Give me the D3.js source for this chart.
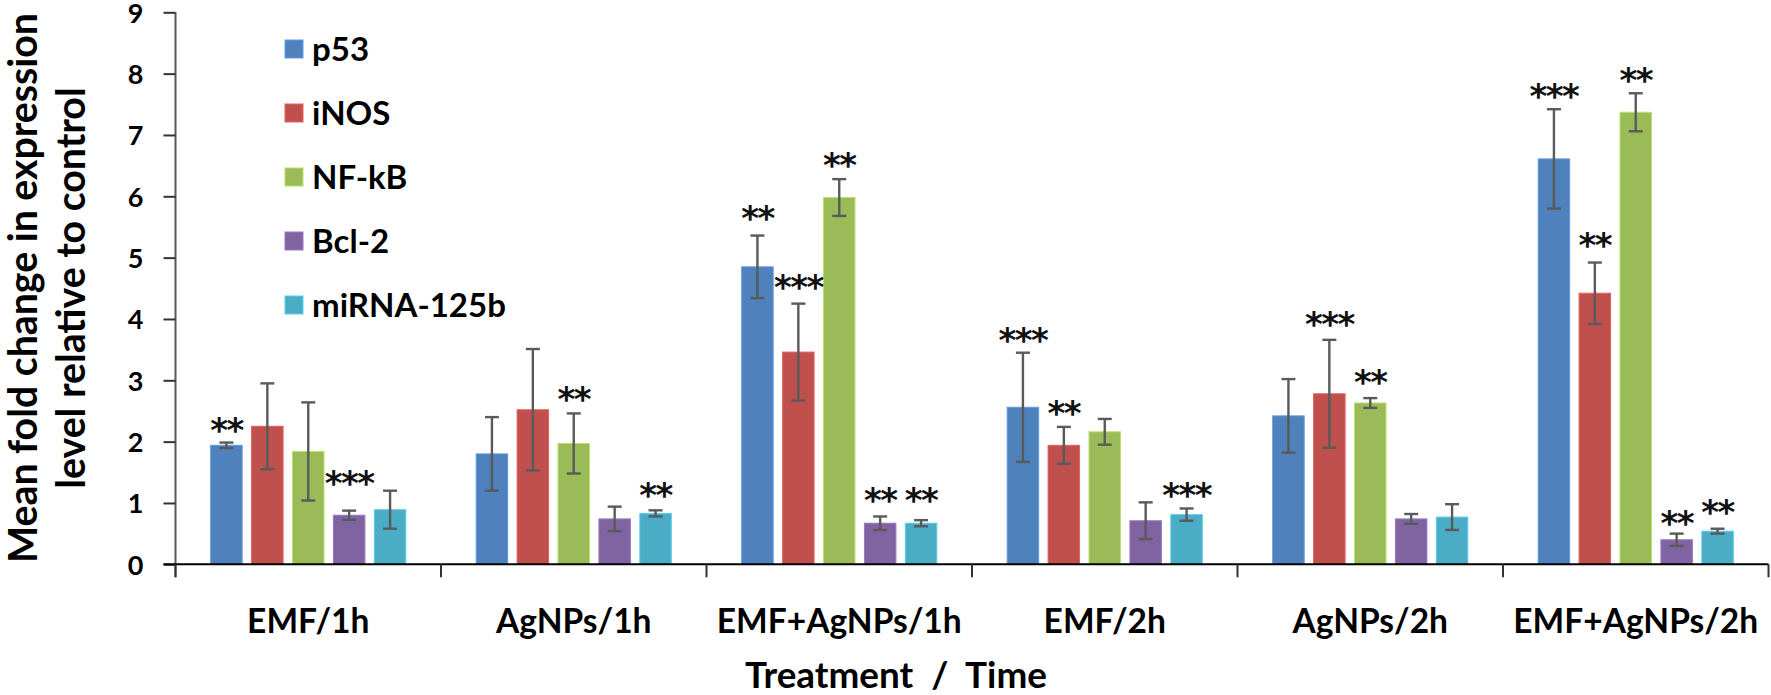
<!DOCTYPE html>
<html><head><meta charset="utf-8">
<script src="https://cdn.jsdelivr.net/npm/d3@7"></script>
<style>body{margin:0;background:#fff} svg{display:block}</style>
</head><body><svg id="c" width="1771" height="695"></svg>
<script>
// ---------- data ----------
const categories = ["EMF/1h","AgNPs/1h","EMF+AgNPs/1h","EMF/2h","AgNPs/2h","EMF+AgNPs/2h"];
const seriesNames = ["p53","iNOS","NF-kB","Bcl-2","miRNA-125b"];
const seriesColors = ["#4F81BD","#C0504D","#9BBB59","#8064A2","#4BACC6"];
const yTicks = [0,1,2,3,4,5,6,7,8,9];

const p53      = [1.94, 1.80, 4.85, 2.56, 2.42, 6.61];
const p53Err   = [0.045,0.60, 0.51, 0.89, 0.60, 0.81];
const iNOS     = [2.25, 2.52, 3.46, 1.94, 2.78, 4.42];
const iNOSErr  = [0.70, 0.99, 0.79, 0.30, 0.88, 0.50];
const nfkb     = [1.84, 1.97, 5.98, 2.16, 2.63, 7.37];
const nfkbErr  = [0.80, 0.49, 0.30, 0.21, 0.08, 0.31];
const bcl2     = [0.80, 0.74, 0.67, 0.71, 0.74, 0.40];
const bcl2Err  = [0.075,0.20, 0.11, 0.30, 0.08, 0.10];
const mirna    = [0.89, 0.83, 0.67, 0.81, 0.77, 0.54];
const mirnaErr = [0.31, 0.05, 0.05, 0.10, 0.21, 0.04];

// significance marks and the value level at which they sit
const p53Sig    = ["**","","**","***","","***"];
const p53SigAt  = [2.28, null, 5.75, 3.76, null, 7.74];
const iNOSSig   = ["","","***","**","***","**"];
const iNOSSigAt = [null, null, 4.62, 2.56, 4.01, 5.31];
const nfkbSig   = ["","**","**","","**","**"];
const nfkbSigAt = [null, 2.80, 6.61, null, 3.07, 8.00];
const bcl2Sig   = ["***","","**","","","**"];
const bcl2SigAt = [1.43, null, 1.14, null, null, 0.77];
const mirnaSig  = ["","**","**","***","","**"];
const mirnaSigAt= [null, 1.235, 1.14, 1.235, null, 0.95];

const yTitle = ["Mean fold change in expression","level relative to control"];
const xTitle = "Treatment  /  Time";

const seriesVals = [p53, iNOS, nfkb, bcl2, mirna];
const seriesErrs = [p53Err, iNOSErr, nfkbErr, bcl2Err, mirnaErr];
const seriesSig  = [p53Sig, iNOSSig, nfkbSig, bcl2Sig, mirnaSig];
const seriesSigAt= [p53SigAt, iNOSSigAt, nfkbSigAt, bcl2SigAt, mirnaSigAt];

const rows = [];
categories.forEach((c, ci) => seriesNames.forEach((s, si) => rows.push({
  cat: c, ser: s, si, v: seriesVals[si][ci], e: seriesErrs[si][ci],
  sig: seriesSig[si][ci], sigAt: seriesSigAt[si][ci]
})));

// ---------- drawing ----------
const FONT = "Lato, 'Open Sans', sans-serif";
const svg = d3.select("#c");
const x0 = d3.scaleBand().domain(categories).range([175.5, 1768.5]).padding(0);
const x1 = d3.scaleBand().domain(seriesNames).range([0, x0.bandwidth()]).paddingInner(0.23).paddingOuter(0.86);
const y = d3.scaleLinear().domain([0, 9]).range([564.3, 12.3]);
const color = d3.scaleOrdinal().domain(seriesNames).range(seriesColors);

function fit(sel, target) {
  const w = sel.node().getComputedTextLength();
  const s = parseFloat(sel.attr("font-size"));
  const ns = s * target / w;
  sel.attr("font-size", ns);
  return ns;
}

// bars
svg.append("g").selectAll("rect").data(rows).join("rect")
  .attr("x", d => x0(d.cat) + x1(d.ser))
  .attr("y", d => y(d.v))
  .attr("width", x1.bandwidth())
  .attr("height", d => y(0) - y(d.v))
  .attr("fill", d => color(d.ser))
  .attr("stroke", d => d3.color(color(d.ser)).brighter(0.5))
  .attr("stroke-width", 1);

// error bars
const eg = svg.append("g").attr("stroke", "#5a5a5a").attr("stroke-width", 2.4).attr("fill", "none");
rows.forEach(d => {
  const cx = x0(d.cat) + x1(d.ser) + x1.bandwidth() / 2;
  eg.append("line").attr("x1", cx).attr("x2", cx).attr("y1", y(d.v + d.e)).attr("y2", y(d.v - d.e));
  eg.append("line").attr("x1", cx - 7).attr("x2", cx + 7).attr("y1", y(d.v + d.e)).attr("y2", y(d.v + d.e));
  eg.append("line").attr("x1", cx - 7).attr("x2", cx + 7).attr("y1", y(d.v - d.e)).attr("y2", y(d.v - d.e));
});

// significance stars
svg.append("g").selectAll("text").data(rows.filter(d => d.sig)).join("text")
  .attr("x", d => x0(d.cat) + x1(d.ser) + x1.bandwidth() / 2)
  .attr("y", d => y(d.sigAt) + 18)
  .attr("text-anchor", "middle")
  .attr("font-family", "'DejaVu Sans', sans-serif")
  .attr("font-weight", "bold")
  .attr("font-size", 34)
  .attr("letter-spacing", -1.5)
  .attr("fill", "#111")
  .text(d => d.sig);

// y axis
const yAxis = svg.append("g").attr("transform", "translate(175.5,0)")
  .call(d3.axisLeft(y).tickValues(yTicks).tickSize(12).tickSizeOuter(0).tickPadding(20).tickFormat(d3.format("d")));
yAxis.select(".domain").attr("stroke", "#595959").attr("stroke-width", 2)
  .attr("d", `M0,${y(9)}V${y(0) + 13}`);
yAxis.selectAll(".tick line").attr("stroke", "#333").attr("stroke-width", 2);
yAxis.selectAll(".tick text").attr("font-family", FONT).attr("font-weight", 700)
  .attr("fill", "#000").attr("font-size", 27).attr("y", 0).attr("dy", 27 * 0.36);

// x axis
const xg = svg.append("g");
xg.append("line").attr("x1", 163.5).attr("x2", x0.range()[1]).attr("y1", y(0)).attr("y2", y(0))
  .attr("stroke", "#000").attr("stroke-width", 2);
const bounds = categories.map(c => x0(c)).concat([x0.range()[1]]);
xg.selectAll("line.b").data(bounds).join("line").attr("class", "b")
  .attr("x1", d => d).attr("x2", d => d).attr("y1", y(0)).attr("y2", y(0) + 13)
  .attr("stroke", "#333").attr("stroke-width", 2);
const catLabels = xg.selectAll("text").data(categories).join("text")
  .attr("x", d => x0(d) + x0.bandwidth() / 2).attr("y", 633)
  .attr("text-anchor", "middle").attr("font-family", FONT).attr("font-weight", 700)
  .attr("font-size", 30).attr("fill", "#000").text(d => d);
const catSize = fit(catLabels.filter((d, i) => i === 2), 245);
catLabels.attr("font-size", catSize);

// axis titles
const xt = svg.append("text").attr("x", 896).attr("y", 688).attr("text-anchor", "middle")
  .attr("font-family", FONT).attr("font-weight", 700).attr("font-size", 30).attr("fill", "#000")
  .style("white-space", "pre").text(xTitle);
fit(xt, 302);

const yt = svg.append("g").attr("transform", "translate(0,288) rotate(-90)");
const yt1 = yt.append("text").attr("x", 0).attr("y", 37).attr("text-anchor", "middle")
  .attr("font-family", FONT).attr("font-weight", 700).attr("font-size", 30).attr("fill", "#000").text(yTitle[0]);
const ys = fit(yt1, 550);
yt.append("text").attr("x", 0).attr("y", 85).attr("text-anchor", "middle")
  .attr("font-family", FONT).attr("font-weight", 700).attr("font-size", ys).attr("fill", "#000").text(yTitle[1]);

// legend
const lg = svg.append("g");
const li = lg.selectAll("g").data(seriesNames).join("g")
  .attr("transform", (d, i) => `translate(285,${49 + i * 64})`);
li.append("rect").attr("x", 0).attr("y", -9).attr("width", 18).attr("height", 18)
  .attr("fill", d => color(d)).attr("stroke", d => d3.color(color(d)).brighter(0.5)).attr("stroke-width", 1);
const lt = li.append("text").attr("x", 27).attr("font-family", FONT).attr("font-weight", 700)
  .attr("font-size", 30).attr("fill", "#000").text(d => d);
const ls = fit(lt.filter((d, i) => i === 4), 194);
lt.attr("font-size", ls).attr("y", ls * 0.36);
</script>
</body></html>
